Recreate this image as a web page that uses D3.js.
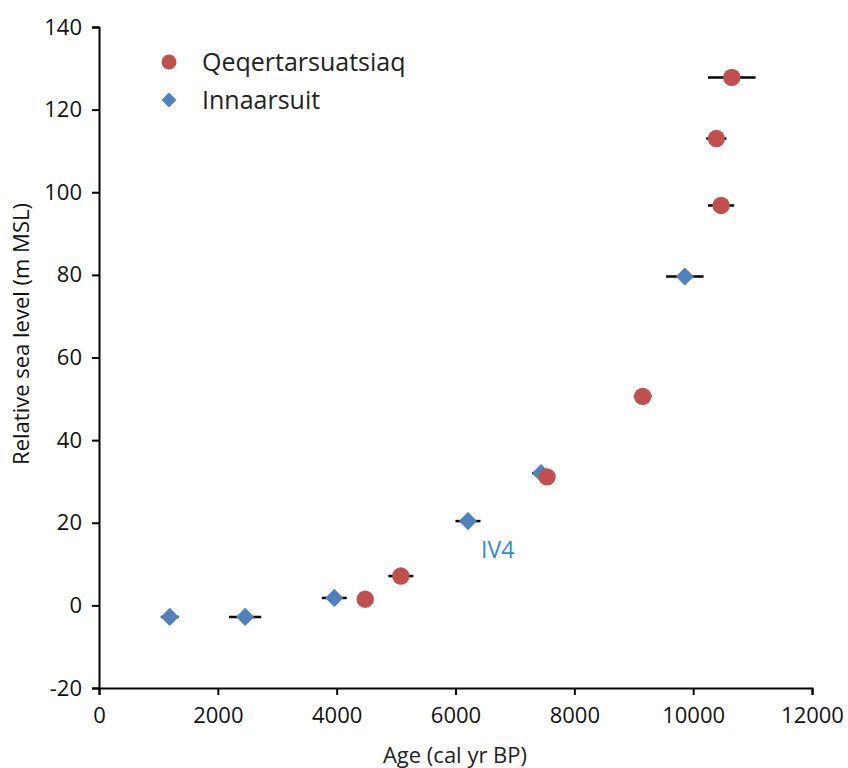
<!DOCTYPE html>
<html>
<head>
<meta charset="utf-8">
<script src="https://cdn.jsdelivr.net/npm/d3@7"></script>
<style>
  body { margin: 0; background: #fff; }
  text { font-family: "Open Sans", sans-serif; }
</style>
</head>
<body>
<svg id="chart" width="848" height="768"></svg>
<script>
// Qeqertarsuatsiaq (red circles): age, rsl, age error
let qAge = [4480, 5080, 7540, 9150, 10470, 10390, 10650];
let qRsl = [1.5, 7.1, 31.1, 50.6, 96.8, 113, 127.8];
let qErr = [0, 210, 0, 150, 220, 170, 400];

// Innaarsuit (blue diamonds)
let iAge = [1190, 2460, 3960, 6210, 7440, 9860];
let iRsl = [-2.8, -2.8, 1.8, 20.4, 32, 79.6];
let iErr = [150, 270, 210, 210, 150, 315];

let xTicks = [0, 2000, 4000, 6000, 8000, 10000, 12000];
let yTicks = [-20, 0, 20, 40, 60, 80, 100, 120, 140];

let red = "#C0504D", blue = "#4F81BD";

let svg = d3.select("#chart");

let x = d3.scaleLinear().domain([0, 12000]).range([99, 812]);
let y = d3.scaleLinear().domain([-20, 140]).range([688, 27]);

// plain hyphen for negatives, like the original
let fmt = function(d) { return String(d); };

// axes
let xAxis = svg.append("g")
    .attr("transform", "translate(0," + y(-20) + ")")
    .call(d3.axisBottom(x).tickValues(xTicks).tickSize(7).tickPadding(9).tickFormat(fmt));
let yAxis = svg.append("g")
    .attr("transform", "translate(" + x(0) + ",0)")
    .call(d3.axisLeft(y).tickValues(yTicks).tickSize(7).tickPadding(10).tickFormat(fmt));

[xAxis, yAxis].forEach(function(a) {
  a.select(".domain").attr("stroke", "#000").attr("stroke-width", 2);
  a.selectAll(".tick line").attr("stroke", "#000").attr("stroke-width", 2);
  a.selectAll(".tick text").attr("fill", "#111").style("font-size", "22px").style("font-family", "Open Sans");
});
xAxis.selectAll(".tick text").attr("dy", "0.85em");

// axis titles
svg.append("text")
    .attr("x", 455).attr("y", 763)
    .attr("text-anchor", "middle")
    .style("font-size", "22px")
    .attr("fill", "#222")
    .text("Age (cal yr BP)");

svg.append("text")
    .attr("transform", "translate(29," + 334 + ") rotate(-90)")
    .attr("text-anchor", "middle")
    .style("font-size", "22px")
    .attr("fill", "#111")
    .text("Relative sea level (m MSL)");

let qData = qAge.map(function(d, i) { return {age: d, rsl: qRsl[i], err: qErr[i]}; });
let iData = iAge.map(function(d, i) { return {age: d, rsl: iRsl[i], err: iErr[i]}; });

// error bars
let bars = svg.append("g");
bars.selectAll("line")
    .data(iData.concat(qData).filter(function(d) { return d.err > 0; }))
    .enter().append("line")
    .attr("x1", function(d) { return x(d.age - d.err); })
    .attr("x2", function(d) { return x(d.age + d.err); })
    .attr("y1", function(d) { return y(d.rsl); })
    .attr("y2", function(d) { return y(d.rsl); })
    .attr("stroke", "#000")
    .attr("stroke-width", 2.5);

// diamonds
let diamond = d3.symbol().type(d3.symbolSquare).size(165);
svg.append("g").selectAll("path")
    .data(iData)
    .enter().append("path")
    .attr("d", diamond)
    .attr("transform", function(d) { return "translate(" + x(d.age) + "," + y(d.rsl) + ") rotate(45)"; })
    .attr("fill", blue);

// circles
svg.append("g").selectAll("circle")
    .data(qData)
    .enter().append("circle")
    .attr("cx", function(d) { return x(d.age); })
    .attr("cy", function(d) { return y(d.rsl); })
    .attr("r", 8.7)
    .attr("fill", red);

// IV4 label
svg.append("text")
    .attr("x", 481).attr("y", 558)
    .style("font-size", "23px")
    .attr("fill", "#2F8AD0")
    .text("IV4");

// legend
let legend = svg.append("g");
legend.append("circle").attr("cx", 169).attr("cy", 62).attr("r", 7.5).attr("fill", red);
legend.append("path").attr("d", d3.symbol().type(d3.symbolSquare).size(110))
    .attr("transform", "translate(169,100) rotate(45)").attr("fill", blue);
legend.append("text").attr("x", 202).attr("y", 62).attr("dy", "0.35em")
    .style("font-size", "25px").attr("fill", "#222").text("Qeqertarsuatsiaq");
legend.append("text").attr("x", 202).attr("y", 100).attr("dy", "0.35em")
    .style("font-size", "25px").attr("fill", "#222").text("Innaarsuit");
</script>
</body>
</html>
